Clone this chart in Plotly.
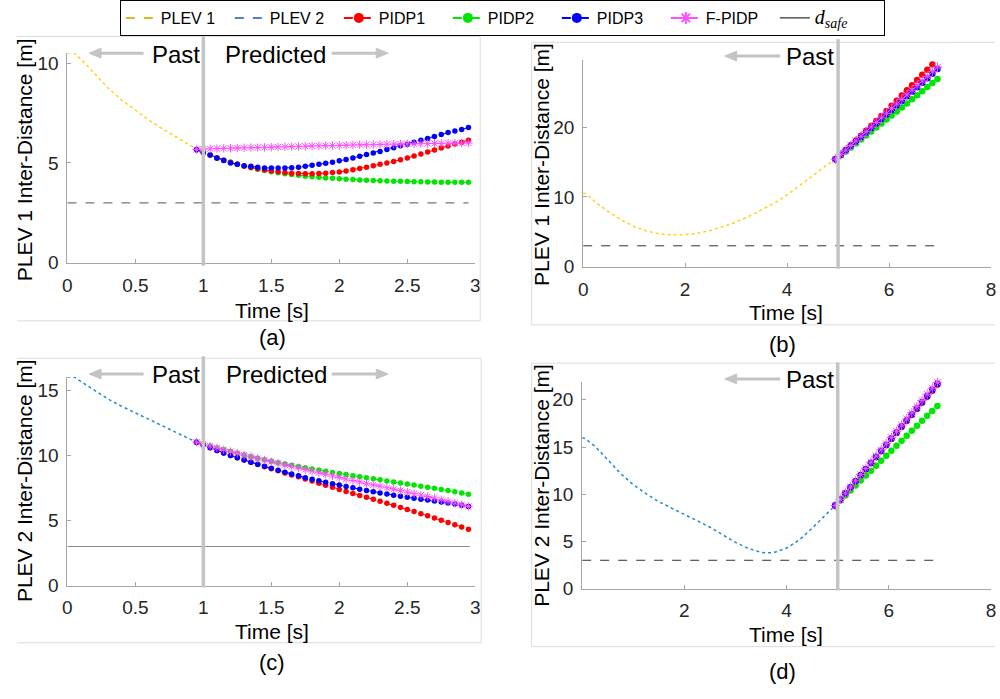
import plotly.graph_objects as go

# ---------------- DATA ----------------
# Panel (a): PLEV 1, prediction from t = 1 s
T_PAST_A = [0.0, 0.05, 0.1, 0.2, 0.3, 0.4, 0.5, 0.6, 0.7, 0.8, 0.9, 0.95]
Y_PAST_A = [10.5, 10.5, 10.2, 9.45, 8.75, 8.15, 7.65, 7.15, 6.7, 6.3, 5.9, 5.7]

T_PRED_A = [0.95, 1.00, 1.05, 1.10, 1.15, 1.20, 1.25, 1.30, 1.35, 1.40, 1.45,
            1.50, 1.55, 1.60, 1.65, 1.70, 1.75, 1.80, 1.85, 1.90, 1.95, 2.00,
            2.05, 2.10, 2.15, 2.20, 2.25, 2.30, 2.35, 2.40, 2.45, 2.50, 2.55,
            2.60, 2.65, 2.70, 2.75, 2.80, 2.85, 2.90, 2.95]
PIDP1_A = [5.66, 5.53, 5.40, 5.26, 5.14, 5.03, 4.93, 4.85, 4.77, 4.71, 4.65,
           4.60, 4.56, 4.52, 4.49, 4.47, 4.46, 4.46, 4.47, 4.49, 4.52, 4.55,
           4.60, 4.66, 4.72, 4.79, 4.86, 4.93, 5.00, 5.07, 5.16, 5.25, 5.35,
           5.45, 5.55, 5.65, 5.75, 5.85, 5.95, 6.04, 6.14]
PIDP2_A = [5.66, 5.53, 5.40, 5.26, 5.14, 5.03, 4.93, 4.84, 4.76, 4.69, 4.62,
           4.56, 4.51, 4.46, 4.42, 4.38, 4.34, 4.31, 4.28, 4.25, 4.23, 4.21,
           4.19, 4.17, 4.15, 4.14, 4.12, 4.11, 4.10, 4.09, 4.08, 4.07, 4.06,
           4.06, 4.05, 4.05, 4.04, 4.04, 4.04, 4.03, 4.03]
PIDP3_A = [5.66, 5.53, 5.40, 5.24, 5.12, 5.00, 4.93, 4.86, 4.83, 4.78, 4.75,
           4.75, 4.75, 4.75, 4.76, 4.79, 4.83, 4.88, 4.93, 4.99, 5.04, 5.11,
           5.17, 5.25, 5.34, 5.42, 5.50, 5.58, 5.67, 5.76, 5.86, 5.94, 6.04,
           6.14, 6.22, 6.32, 6.42, 6.52, 6.60, 6.68, 6.77]
FPIDP_A = [5.68, 5.70, 5.71, 5.72, 5.73, 5.74, 5.75, 5.76, 5.77, 5.77, 5.78,
           5.79, 5.80, 5.81, 5.82, 5.83, 5.84, 5.85, 5.86, 5.87, 5.87, 5.88,
           5.89, 5.90, 5.91, 5.91, 5.92, 5.93, 5.94, 5.94, 5.95, 5.96, 5.96,
           5.97, 5.97, 5.98, 5.98, 5.99, 5.99, 6.00, 6.00]
DSAFE_T_A = [0.0, 2.95]
DSAFE_Y_A = [3.0, 3.0]

# Panel (b): PLEV 1, prediction from t = 5 s
T_PAST_B = [0.0, 0.05, 0.25, 0.5, 0.75, 1.0, 1.25, 1.5, 1.75, 2.0, 2.25, 2.5,
            2.75, 3.0, 3.25, 3.5, 3.75, 4.0, 4.25, 4.5, 4.75, 4.95]
Y_PAST_B = [10.5, 10.5, 9.2, 7.85, 6.7, 5.75, 5.1, 4.7, 4.55, 4.6, 4.8, 5.2,
            5.75, 6.4, 7.2, 8.1, 9.1, 10.3, 11.6, 13.0, 14.4, 15.4]
T_PRED_B = [4.95, 5.05, 5.15, 5.25, 5.35, 5.45, 5.55, 5.65, 5.75, 5.85, 5.95,
            6.05, 6.15, 6.25, 6.35, 6.45, 6.55, 6.65, 6.75, 6.85, 6.95]
PIDP1_B = [15.40, 16.05, 16.72, 17.40, 18.08, 18.77, 19.47, 20.17, 20.88, 21.60,
           22.32, 23.05, 23.78, 24.52, 25.26, 26.00, 26.74, 27.48, 28.22, 28.96, 29.70]
PIDP2_B = [15.40, 15.96, 16.52, 17.09, 17.66, 18.23, 18.80, 19.37, 19.94, 20.51,
           21.08, 21.66, 22.23, 22.81, 23.39, 23.97, 24.55, 25.14, 25.73, 26.31, 26.90]
PIDP3_B = [15.40, 16.03, 16.67, 17.31, 17.95, 18.59, 19.23, 19.87, 20.51, 21.15,
           21.80, 22.45, 23.10, 23.75, 24.40, 25.05, 25.70, 26.35, 27.00, 27.65, 28.30]
FPIDP_B = [15.40, 16.05, 16.70, 17.36, 18.02, 18.68, 19.34, 20.00, 20.66, 21.32,
           21.98, 22.64, 23.30, 23.96, 24.62, 25.28, 25.94, 26.60, 27.26, 27.93, 28.60]
DSAFE_T_B = [0.0, 6.95]
DSAFE_Y_B = [3.0, 3.0]

# Panel (c): PLEV 2, prediction from t = 1 s
T_PAST_C = [0.0, 0.05, 0.1, 0.2, 0.3, 0.4, 0.5, 0.6, 0.7, 0.8, 0.9, 0.95]
Y_PAST_C = [16.0, 16.0, 15.65, 14.95, 14.3, 13.75, 13.25, 12.77, 12.3, 11.8, 11.27, 11.0]
T_PRED_C = T_PRED_A
PIDP1_C = [11.00, 10.78, 10.57, 10.36, 10.17, 9.98, 9.80, 9.63, 9.46, 9.29, 9.12,
           8.96, 8.80, 8.64, 8.49, 8.34, 8.18, 8.02, 7.86, 7.70, 7.54, 7.38,
           7.22, 7.07, 6.92, 6.77, 6.62, 6.47, 6.32, 6.16, 6.00, 5.84, 5.68,
           5.52, 5.35, 5.18, 5.01, 4.84, 4.67, 4.50, 4.33]
PIDP2_C = [11.00, 10.85, 10.70, 10.56, 10.42, 10.28, 10.15, 10.02, 9.89, 9.77, 9.65,
           9.53, 9.43, 9.33, 9.23, 9.13, 9.04, 8.95, 8.86, 8.77, 8.68, 8.60,
           8.52, 8.43, 8.35, 8.27, 8.19, 8.11, 8.03, 7.95, 7.87, 7.79, 7.71,
           7.63, 7.55, 7.47, 7.38, 7.29, 7.20, 7.10, 7.00]
PIDP3_C = [11.00, 10.78, 10.57, 10.36, 10.17, 9.98, 9.80, 9.63, 9.47, 9.31, 9.15,
           9.00, 8.85, 8.70, 8.56, 8.42, 8.28, 8.16, 8.04, 7.93, 7.82, 7.71,
           7.60, 7.50, 7.40, 7.30, 7.20, 7.11, 7.02, 6.94, 6.86, 6.78, 6.70,
           6.63, 6.56, 6.49, 6.42, 6.34, 6.26, 6.17, 6.07]
FPIDP_C = [11.00, 10.85, 10.70, 10.56, 10.42, 10.28, 10.15, 10.02, 9.89, 9.76, 9.63,
           9.50, 9.38, 9.26, 9.14, 9.02, 8.90, 8.78, 8.66, 8.54, 8.42, 8.30,
           8.18, 8.06, 7.95, 7.84, 7.73, 7.62, 7.51, 7.40, 7.29, 7.18, 7.06,
           6.94, 6.83, 6.72, 6.59, 6.46, 6.33, 6.20, 6.07]
DSAFE_T_C = [0.0, 2.96]
DSAFE_Y_C = [3.0, 3.0]

# Panel (d): PLEV 2, prediction from t = 5 s
T_PAST_D = [0.0, 0.05, 0.25, 0.5, 0.75, 1.0, 1.25, 1.5, 1.75, 2.0, 2.25, 2.5,
            2.75, 3.0, 3.25, 3.5, 3.6, 3.75, 4.0, 4.25, 4.5, 4.75, 4.95]
Y_PAST_D = [16.0, 15.9, 15.1, 13.7, 12.2, 11.0, 10.05, 9.2, 8.5, 7.85, 7.2, 6.5,
            5.7, 4.9, 4.25, 3.85, 3.78, 3.82, 4.3, 5.15, 6.4, 7.7, 8.8]
T_PRED_D = T_PRED_B
PIDP1_D = [8.80, 9.44, 10.08, 10.72, 11.36, 12.00, 12.64, 13.28, 13.92, 14.56,
           15.20, 15.84, 16.48, 17.12, 17.76, 18.40, 19.04, 19.68, 20.32, 20.96, 21.60]
PIDP2_D = [8.80, 9.33, 9.86, 10.38, 10.91, 11.44, 11.97, 12.49, 13.02, 13.55,
           14.08, 14.60, 15.13, 15.66, 16.19, 16.71, 17.24, 17.77, 18.30, 18.82, 19.35]
PIDP3_D = [8.80, 9.45, 10.09, 10.74, 11.38, 12.03, 12.67, 13.32, 13.96, 14.61,
           15.25, 15.90, 16.54, 17.19, 17.83, 18.48, 19.12, 19.77, 20.41, 21.06, 21.70]
FPIDP_D = [8.80, 9.46, 10.11, 10.77, 11.42, 12.08, 12.73, 13.39, 14.04, 14.70,
           15.35, 16.00, 16.66, 17.31, 17.97, 18.62, 19.28, 19.93, 20.59, 21.24, 21.85]
DSAFE_T_D = [0.0, 6.95]
DSAFE_Y_D = [3.0, 3.0]

PRED_START = {"a": 1, "b": 5, "c": 1, "d": 5}
XTICKS_AC = [0, 0.5, 1, 1.5, 2, 2.5, 3]
XTICKTEXT_AC = ["0", "0.5", "1", "1.5", "2", "2.5", "3"]
XTICKS_B = [0, 2, 4, 6, 8]
XTICKS_D = [2, 4, 6, 8]
YTICKS_A = [0, 5, 10]
YTICKS_B = [0, 10, 20]
YTICKS_C = [0, 5, 10, 15]
YTICKS_D = [0, 5, 10, 15, 20]

# ---------------- STYLE ----------------
W, H = 1000, 699
FONT = "Arial, 'Liberation Sans', sans-serif"
C_RED, C_GREEN, C_BLUE, C_MAG = "#ff0000", "#00e600", "#0000ff", "#ff4dff"
C_YEL, C_PLEV2 = "#ffd21a", "#1f8ad6"
C_LEG_P1, C_LEG_P2 = "#e6b422", "#5a7fc0"
GRAY_LINE = "#c4c4c4"
AX_COL = "#a6a6a6"


def px(x):
    return x / W


def py(y):
    return 1 - y / H


fig = go.Figure()

# legend entries
fig.add_trace(go.Scatter(x=[None], y=[None], mode="lines", name="PLEV 1",
                         line=dict(color=C_LEG_P1, dash="dash", width=2)))
fig.add_trace(go.Scatter(x=[None], y=[None], mode="lines", name="PLEV 2",
                         line=dict(color=C_LEG_P2, dash="dash", width=2)))
for nm, col in (("PIDP1", C_RED), ("PIDP2", C_GREEN), ("PIDP3", C_BLUE)):
    fig.add_trace(go.Scatter(x=[None], y=[None], mode="lines+markers", name=nm,
                             line=dict(color=col, dash="dash", width=2),
                             marker=dict(color=col, size=10)))
fig.add_trace(go.Scatter(x=[None], y=[None], mode="lines+markers", name="F-PIDP",
                         line=dict(color=C_MAG, dash="dash", width=2),
                         marker=dict(symbol="asterisk-open", size=10,
                                     line=dict(color=C_MAG, width=2))))
fig.add_trace(go.Scatter(x=[None], y=[None], mode="lines",
                         name="<span style=\"font-family:'Liberation Serif', 'Times New Roman', serif; font-size:20px\"><i>d</i><sub><i>safe</i></sub></span>",
                         line=dict(color="#000000", width=1)))

panels = [
    ("x", "y", T_PAST_A, Y_PAST_A, C_YEL, T_PRED_A, PIDP1_A, PIDP2_A, PIDP3_A, FPIDP_A,
     DSAFE_T_A, DSAFE_Y_A, "dash", "#555555", 5.5),
    ("x2", "y2", T_PAST_B, Y_PAST_B, C_YEL, T_PRED_B, PIDP1_B, PIDP2_B, PIDP3_B, FPIDP_B,
     DSAFE_T_B, DSAFE_Y_B, "dash", "#333333", 6.5),
    ("x3", "y3", T_PAST_C, Y_PAST_C, C_PLEV2, T_PRED_C, PIDP1_C, PIDP2_C, PIDP3_C, FPIDP_C,
     DSAFE_T_C, DSAFE_Y_C, "solid", "#8a8a8a", 5.5),
    ("x4", "y4", T_PAST_D, Y_PAST_D, C_PLEV2, T_PRED_D, PIDP1_D, PIDP2_D, PIDP3_D, FPIDP_D,
     DSAFE_T_D, DSAFE_Y_D, "dash", "#333333", 6.5),
]

for (xa, ya, tp, yp, pc, tq, p1, p2, p3, fp, dt, dy, ddash, dcol, msz) in panels:
    fig.add_trace(go.Scatter(x=dt, y=dy, xaxis=xa, yaxis=ya, mode="lines",
                             line=dict(color=dcol, width=1, dash=ddash),
                             showlegend=False, hoverinfo="skip"))
    fig.add_trace(go.Scatter(x=tp, y=yp, xaxis=xa, yaxis=ya, mode="lines",
                             line=dict(color=pc, width=1.5, dash="dot"),
                             showlegend=False, cliponaxis=False))
    for vals, col in ((p2, C_GREEN), (p1, C_RED), (p3, C_BLUE)):
        fig.add_trace(go.Scatter(x=tq, y=vals, xaxis=xa, yaxis=ya, mode="lines+markers",
                                 line=dict(color=col, width=1, dash="dash"),
                                 marker=dict(color=col, size=msz),
                                 showlegend=False, cliponaxis=False))
    fig.add_trace(go.Scatter(x=tq, y=fp, xaxis=xa, yaxis=ya, mode="lines+markers",
                             line=dict(color=C_MAG, width=1, dash="dash"),
                             marker=dict(symbol="asterisk-open", size=msz + 1.5,
                                         line=dict(color=C_MAG, width=1)),
                             showlegend=False, cliponaxis=False))

axis_common = dict(showgrid=False, zeroline=False, showline=True, linecolor=AX_COL,
                   linewidth=1, ticks="inside", ticklen=4, tickcolor=AX_COL,
                   tickfont=dict(size=19, color="#262626", family=FONT),
                   fixedrange=True)

fig.update_layout(
    width=W, height=H, margin=dict(l=0, r=0, t=0, b=0),
    paper_bgcolor="white", plot_bgcolor="white",
    font=dict(family=FONT, color="#000000"),
    xaxis=dict(domain=[px(63), px(475)], range=[0, 3], anchor="y",
               tickvals=XTICKS_AC, ticktext=XTICKTEXT_AC, ticklabelstandoff=5, **axis_common),
    yaxis=dict(domain=[py(267), py(54)], range=[0, 10.5], anchor="x",
               tickvals=YTICKS_A, ticklabelstandoff=4, **axis_common),
    xaxis2=dict(domain=[px(584), px(996)], range=[0, 8], anchor="y2",
                tickvals=XTICKS_B, ticklabelstandoff=5, **axis_common),
    yaxis2=dict(domain=[py(271), py(61)], range=[0, 29.6], anchor="x2",
                tickvals=YTICKS_B, ticklabelstandoff=4, **axis_common),
    xaxis3=dict(domain=[px(63), px(475)], range=[0, 3], anchor="y3",
                tickvals=XTICKS_AC, ticktext=XTICKTEXT_AC, ticklabelstandoff=5, **axis_common),
    yaxis3=dict(domain=[py(595), py(383)], range=[0, 16], anchor="x3",
                tickvals=YTICKS_C, ticklabelstandoff=4, **axis_common),
    xaxis4=dict(domain=[px(583), px(996)], range=[0, 8], anchor="y4",
                tickvals=XTICKS_D, ticklabelstandoff=5, **axis_common),
    yaxis4=dict(domain=[py(598), py(388)], range=[0, 21.9], anchor="x4",
                tickvals=YTICKS_D, ticklabelstandoff=4, **axis_common),
    legend=dict(orientation="h", x=px(116), y=1.0, xanchor="left", yanchor="top",
                bordercolor="#000000", borderwidth=1, bgcolor="white",
                font=dict(size=16, family=FONT, color="#000000"),
                entrywidth=64, entrywidthmode="pixels", tracegroupgap=0,
                itemwidth=30),
)

shapes = []
# light frames around each sub-figure
frame = dict(type="line", xref="paper", yref="paper", line=dict(color="#dcdcdc", width=1))
for (x0, y0, x1, y1) in [(12, 37, 480, 37), (480, 37, 480, 326), (12, 326, 480, 326),
                         (12, 364, 481, 364), (481, 364, 481, 653), (12, 653, 481, 653),
                         (532, 43, 1000, 43), (532, 43, 532, 330), (532, 330, 1000, 330),
                         (532, 369, 1000, 369), (532, 369, 532, 657), (532, 657, 1000, 657)]:
    shapes.append(dict(frame, x0=px(x0), y0=py(y0), x1=px(x1), y1=py(y1)))
# vertical "now" lines
for xa, xv, ytop, ybot in [("x", PRED_START["a"], 37, 270), ("x2", PRED_START["b"], 40, 273),
                           ("x3", PRED_START["c"], 362, 597), ("x4", PRED_START["d"], 368, 600)]:
    shapes.append(dict(type="line", xref=xa, yref="paper", x0=xv, x1=xv,
                       y0=py(ybot), y1=py(ytop), line=dict(color=GRAY_LINE, width=3.5)))


def arrow(x_tail, x_head, yv):
    d = 1 if x_head > x_tail else -1
    base = x_head - d * 12
    shapes.append(dict(type="line", xref="paper", yref="paper", x0=px(x_tail), x1=px(base),
                       y0=py(yv), y1=py(yv), line=dict(color=GRAY_LINE, width=3)))
    path = "M {:.4f},{:.4f} L {:.4f},{:.4f} L {:.4f},{:.4f} Z".format(
        px(x_head), py(yv), px(base), py(yv - 5), px(base), py(yv + 5))
    shapes.append(dict(type="path", xref="paper", yref="paper", path=path,
                       fillcolor=GRAY_LINE, line=dict(color=GRAY_LINE, width=1)))


arrow(140, 85, 54)
arrow(330, 387, 54)
arrow(783, 727, 57)
arrow(140, 85, 380)
arrow(330, 387, 380)
arrow(783, 727, 385)
fig.update_layout(shapes=shapes)

ann = []


def text(xp, yp, s, size, **kw):
    ann.append(dict(x=px(xp), y=py(yp), xref="paper", yref="paper", text=s, showarrow=False,
                    font=dict(size=size, family=FONT, color="#000000"),
                    xanchor="center", yanchor="middle", **kw))


# axis titles
for (xc, yc) in [(270, 315), (789, 318), (270, 642), (789, 645)]:
    text(xc, yc, "Time [s]", 21)
text(20, 162, "PLEV 1 Inter-Distance [m]", 21, textangle=-90)
text(542, 167, "PLEV 1 Inter-Distance [m]", 21, textangle=-90)
text(20, 488, "PLEV 2 Inter-Distance [m]", 21, textangle=-90)
text(542, 493, "PLEV 2 Inter-Distance [m]", 21, textangle=-90)
# captions
text(270, 343, "(a)", 22)
text(785, 350, "(b)", 22)
text(270, 673, "(c)", 22)
text(785, 682, "(d)", 22)
# Past / Predicted
text(173, 55, "Past", 24)
text(273, 55, "Predicted", 24)
text(813, 57, "Past", 24)
text(173, 380, "Past", 24)
text(274, 380, "Predicted", 24)
text(813, 386, "Past", 24)

fig.update_layout(annotations=ann)
fig.write_html("out.html")
